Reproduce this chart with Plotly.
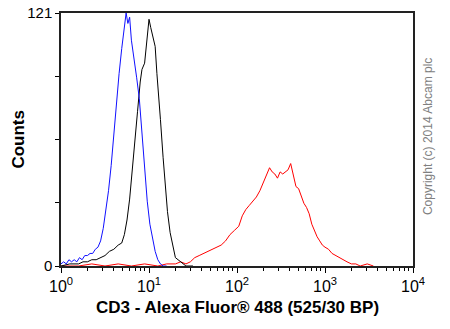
import plotly.graph_objects as go

# fluorescence values (log10 exponents) and counts
blue_exp = [0.00, 0.03, 0.06, 0.09, 0.12, 0.15, 0.18, 0.21, 0.24, 0.27, 0.30, 0.33, 0.36, 0.39,
            0.42, 0.45, 0.48, 0.51, 0.54, 0.57, 0.60, 0.63, 0.66, 0.69, 0.72, 0.74, 0.76, 0.78,
            0.80, 0.83, 0.86, 0.89, 0.92, 0.95, 0.98, 1.01, 1.04, 1.07, 1.10, 1.13, 1.16, 1.20]
blue_cnt = [1, 2, 1, 3, 2, 3, 2, 4, 3, 5, 5, 6, 6, 8,
            9, 12, 18, 26, 36, 48, 62, 80, 92, 104, 113, 121, 116, 119,
            108, 100, 90, 80, 64, 46, 31, 20, 13, 7, 3, 1, 0, 0]

black_exp = [0.00, 0.10, 0.20, 0.25, 0.30, 0.35, 0.40, 0.45, 0.50, 0.55, 0.60, 0.65, 0.69, 0.72,
             0.75, 0.78, 0.81, 0.84, 0.87, 0.90, 0.92, 0.95, 0.97, 1.00, 1.02, 1.04, 1.07, 1.09,
             1.11, 1.13, 1.16, 1.18, 1.21, 1.24, 1.27, 1.30, 1.33, 1.36, 1.39, 1.42, 1.50]
black_cnt = [0, 1, 1, 2, 2, 3, 3, 4, 5, 7, 8, 10, 11, 15,
             22, 32, 45, 60, 74, 88, 94, 97, 106, 118, 114, 110, 105, 92,
             82, 70, 52, 40, 26, 16, 9, 4, 3, 2, 1, 0, 0]

red_exp = [0.00, 0.20, 0.35, 0.50, 0.65, 0.80, 0.95, 1.10, 1.20, 1.30, 1.36, 1.42, 1.47, 1.52,
           1.57, 1.62, 1.67, 1.72, 1.77, 1.82, 1.87, 1.92, 1.97, 2.02, 2.06, 2.10, 2.14, 2.18,
           2.22, 2.26, 2.30, 2.34, 2.37, 2.40, 2.43, 2.46, 2.49, 2.52, 2.55, 2.58, 2.61, 2.64,
           2.67, 2.70, 2.73, 2.76, 2.79, 2.82, 2.85, 2.88, 2.91, 2.94, 2.97, 3.00, 3.04, 3.08,
           3.12, 3.16, 3.20, 3.25, 3.30, 3.35, 3.40, 3.48, 3.55]
red_cnt = [0, 0, 1, 0, 1, 0, 1, 0, 1, 1, 2, 1, 2, 4,
           5, 6, 7, 8, 9, 10, 12, 15, 17, 19, 24, 27, 29, 31,
           33, 36, 40, 44, 47, 45, 44, 42, 45, 44, 45, 46, 49, 44,
           38, 37, 33, 30, 28, 25, 20, 17, 14, 12, 10, 9, 8, 6,
           5, 4, 3, 2, 1, 1, 0, 1, 0]

y_tickvals = [0, 30.25, 60.5, 90.75, 121]
y_ticktext = ["0", "", "", "", "121"]
x_decades = [1, 10, 100, 1000, 10000]
x_ticktext = ["10<sup>0</sup>", "10<sup>1</sup>", "10<sup>2</sup>", "10<sup>3</sup>", "10<sup>4</sup>"]
x_minor = [m * d for d in [1, 10, 100, 1000] for m in range(2, 10)]

fig = go.Figure()
for exps, cnts, col in [(red_exp, red_cnt, "#ff0000"),
                        (black_exp, black_cnt, "#000000"),
                        (blue_exp, blue_cnt, "#1010ff")]:
    fig.add_trace(go.Scatter(x=[10 ** e for e in exps], y=cnts, mode="lines",
                             line=dict(color=col, width=1), showlegend=False,
                             hoverinfo="skip"))

fig.update_layout(
    width=450, height=329,
    margin=dict(l=61, r=37, t=13, b=63),
    paper_bgcolor="white", plot_bgcolor="white",
    font=dict(family="Liberation Sans, Arial", color="black"),
)
fig.update_xaxes(type="log", range=[0, 4], tickvals=x_decades, ticktext=x_ticktext,
                 ticks="outside", ticklen=5, tickcolor="black", tickwidth=1,
                 tickfont=dict(size=16), automargin=False,
                 minor=dict(tickvals=x_minor, ticks="outside", ticklen=3, tickcolor="black"),
                 showgrid=False, zeroline=False, showline=True, linecolor="#222", linewidth=1.5,
                 mirror=True)
fig.update_yaxes(range=[0, 121], tickvals=y_tickvals, ticktext=y_ticktext,
                 ticks="outside", ticklen=4, tickcolor="black", tickfont=dict(size=15),
                 automargin=False,
                 showgrid=False, zeroline=False, showline=True, linecolor="#222", linewidth=1.5,
                 mirror=True)

fig.add_annotation(text="<b>CD3 - Alexa Fluor® 488 (525/30 BP)</b>", x=0.5, y=-0.166,
                   xref="paper", yref="paper", showarrow=False, yanchor="middle",
                   font=dict(size=17))
fig.add_annotation(text="<b>Counts</b>", x=-0.122, y=0.5, xref="paper", yref="paper",
                   xanchor="center", showarrow=False, textangle=-90, font=dict(size=17))
fig.add_annotation(text="Copyright (c) 2014 Abcam plc", x=1.043, y=0.51,
                   xref="paper", yref="paper", xanchor="center", showarrow=False, textangle=-90,
                   font=dict(size=12, color="#808080"))

fig.write_html("out.html", config={"displayModeBar": False})

# remove the browser's default page margin so the figure sits at the window origin
with open("out.html", encoding="utf-8") as f:
    html = f.read()
html = html.replace("<head>", "<head><style>html,body{margin:0;padding:0;overflow:hidden;}</style>", 1)
with open("out.html", "w", encoding="utf-8") as f:
    f.write(html)
